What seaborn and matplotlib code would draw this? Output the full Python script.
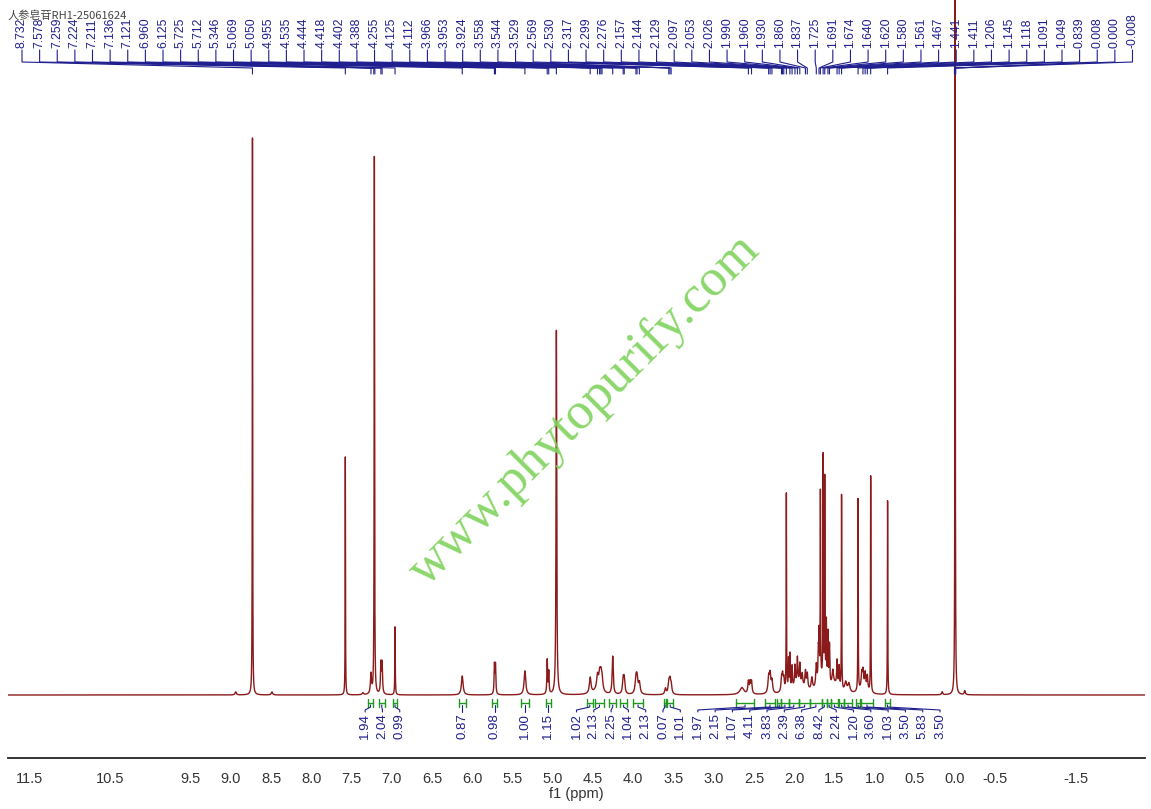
import numpy as np
import pandas as pd
import matplotlib
matplotlib.use("Agg")
import matplotlib.pyplot as plt
from matplotlib.ticker import MultipleLocator
import seaborn as sns

sns.set_style("white")
plt.rcParams['font.family'] = ['Liberation Sans', 'Noto Sans CJK SC', 'DejaVu Sans']

title = "人参皂苷RH1-25061624"
watermark = "www.phytopurify.com"

# peaks: shift (ppm), height above baseline, half width (ppm)
peak_shift = [8.94, 8.732, 8.49, 7.578, 7.36, 7.259, 7.217, 7.136, 7.121, 6.960,
              6.125, 5.725, 5.712, 5.346, 5.069, 5.050, 4.955,
              4.535, 4.444, 4.418, 4.402, 4.388, 4.255, 4.125, 4.112,
              3.966, 3.953, 3.924, 3.600, 3.558, 3.544, 3.529,
              2.65, 2.569, 2.548, 2.530, 2.317, 2.299, 2.276,
              2.157, 2.144, 2.129, 2.097, 2.070, 2.053, 2.026,
              1.990, 1.960, 1.930, 1.900, 1.860, 1.837, 1.780, 1.725,
              1.700, 1.691, 1.674, 1.640, 1.620, 1.600, 1.580, 1.561,
              1.520, 1.467, 1.441, 1.411, 1.360, 1.320,
              1.206, 1.160, 1.145, 1.118, 1.091, 1.049, 0.839,
              0.160, 0.000, -0.120,
              1.95, 1.65, 1.50, 1.15, 4.45]
peak_height = [3, 557, 3, 238, 2, 20, 540, 30, 30, 68,
               19, 29, 29, 24, 34, 22, 365,
               16, 14, 15, 14, 12, 38, 14, 14,
               14, 14, 11, 6, 11, 12, 9,
               7, 12, 11, 12, 16, 18, 12,
               13, 15, 12, 198, 30, 35, 22,
               20, 26, 20, 12, 17, 15, 12, 22,
               30, 45, 186, 221, 200, 60, 50, 40,
               14, 26, 22, 196, 10, 9,
               192, 14, 16, 16, 15, 218, 195,
               3, 900, 4,
               10, 14, 8, 6, 4]
peak_hwhm = [0.01, 0.0025, 0.01, 0.0022, 0.01, 0.008, 0.003, 0.006, 0.006, 0.003,
             0.012, 0.005, 0.005, 0.012, 0.005, 0.005, 0.005,
             0.012, 0.012, 0.012, 0.012, 0.012, 0.008, 0.010, 0.010,
             0.012, 0.012, 0.012, 0.010, 0.010, 0.010, 0.010,
             0.03, 0.008, 0.008, 0.008, 0.010, 0.010, 0.010,
             0.008, 0.008, 0.008, 0.0025, 0.004, 0.004, 0.005,
             0.006, 0.006, 0.006, 0.008, 0.008, 0.008, 0.010, 0.008,
             0.005, 0.004, 0.0025, 0.0025, 0.0025, 0.004, 0.004, 0.005,
             0.010, 0.006, 0.006, 0.0025, 0.015, 0.015,
             0.0025, 0.008, 0.008, 0.008, 0.008, 0.0025, 0.0025,
             0.008, 0.0025, 0.008,
             0.08, 0.06, 0.05, 0.05, 0.06]

# picked peak labels along the top
label_shifts = [8.732, 7.578, 7.259, 7.224, 7.211, 7.136, 7.121, 6.960, 6.125, 5.725,
                5.712, 5.346, 5.069, 5.050, 4.955, 4.535, 4.444, 4.418, 4.402, 4.388,
                4.255, 4.125, 4.112, 3.966, 3.953, 3.924, 3.558, 3.544, 3.529, 2.569,
                2.530, 2.317, 2.299, 2.276, 2.157, 2.144, 2.129, 2.097, 2.053, 2.026,
                1.990, 1.960, 1.930, 1.860, 1.837, 1.725, 1.691, 1.674, 1.640, 1.620,
                1.580, 1.561, 1.467, 1.441, 1.411, 1.206, 1.145, 1.118, 1.091, 1.049,
                0.839, 0.008, 0.000, -0.008]

# integral ranges and values
int_start = [7.29, 7.16, 6.99, 6.17, 5.75, 5.39, 5.09, 4.58, 4.48, 4.30, 4.16, 4.00, 3.62, 3.58,
             2.72, 2.36, 2.21, 2.16, 2.07, 1.94, 1.80, 1.66, 1.59, 1.54, 1.44, 1.38, 1.23, 1.17, 0.87]
int_end = [7.24, 7.09, 6.93, 6.08, 5.69, 5.30, 5.02, 4.50, 4.36, 4.21, 4.08, 3.88, 3.59, 3.50,
           2.50, 2.24, 2.16, 2.07, 1.94, 1.80, 1.66, 1.59, 1.54, 1.46, 1.38, 1.28, 1.18, 1.02, 0.81]
int_value = [1.94, 2.04, 0.99, 0.87, 0.98, 1.00, 1.15, 1.02, 2.13, 2.25, 1.04, 2.13, 0.07, 1.01,
             1.97, 2.15, 1.07, 4.11, 3.83, 2.39, 6.38, 8.42, 2.24, 1.20, 3.60, 1.03, 3.50, 5.83, 3.50]

tick_values = [11.5, 11.0, 10.5, 10.0, 9.5, 9.0, 8.5, 8.0, 7.5, 7.0, 6.5, 6.0, 5.5, 5.0,
               4.5, 4.0, 3.5, 3.0, 2.5, 2.0, 1.5, 1.0, 0.5, 0.0, -0.5, -1.0, -1.5, -2.0]
tick_labels = ['11.5', '', '10.5', '', '9.5', '9.0', '8.5', '8.0', '7.5', '7.0', '6.5', '6.0',
               '5.5', '5.0', '4.5', '4.0', '3.5', '3.0', '2.5', '2.0', '1.5', '1.0', '0.5',
               '0.0', '-0.5', '', '-1.5', '']

red = "#8b1a1a"
navy = "#1f1f8f"
green = "#1e9a1e"

# build the spectrum from the peak list (lorentzian lines)
ppm = np.arange(11.77, -2.36, -0.0004)
intensity = np.zeros_like(ppm)
for c, h, w in zip(peak_shift, peak_height, peak_hwhm):
    intensity += h / (1 + ((ppm - c) / w) ** 2)
spec = pd.DataFrame({"ppm": ppm, "intensity": intensity})


def spread(centers, gap):
    # push labels apart, keep clusters centred on the mean of their targets
    clusters = [[c] for c in centers]
    changed = True
    while changed:
        changed = False
        out = []
        for cl in clusters:
            if out:
                prev = out[-1]
                prev_last = np.mean(prev) - (len(prev) - 1) * gap / 2
                cur_first = np.mean(cl) + (len(cl) - 1) * gap / 2
                if prev_last - cur_first < gap:
                    out[-1] = prev + cl
                    changed = True
                    continue
            out.append(cl)
        clusters = out
    pos = []
    for cl in clusters:
        m = np.mean(cl)
        pos += [m + (len(cl) - 1) * gap / 2 - k * gap for k in range(len(cl))]
    return pos


fig = plt.figure(figsize=(11.51, 8.09), dpi=100)
ax = fig.add_axes([8 / 1151, 51 / 809, 1137 / 1151, 758 / 809])

fig.text(585 / 1151, 1 - 410 / 809, watermark, rotation=45, ha='center', va='center',
         fontsize=38, family='Liberation Serif', color='#7fd35c', alpha=0.9, zorder=0)

sns.lineplot(data=spec, x="ppm", y="intensity", estimator=None, sort=False,
             color=red, linewidth=1.0, ax=ax)

ax.set_xlim(11.77, -2.36)
ax.set_ylim(-63, 695)

# peak labels on top
x0, x1 = ax.get_xlim()
fr = np.linspace(0.0123, 0.989, len(label_shifts))
lab_x = x0 + (x1 - x0) * fr
for s, lx in zip(label_shifts, lab_x):
    ax.text(lx, 647, f"{s:.3f}", rotation=90, ha='center', va='bottom',
            fontsize=8.8, color=navy)
    ax.plot([lx, lx, s, s], [645, 633, 627, 621], color=navy, lw=0.8)

# integrals
centers = [(a + b) / 2 for a, b in zip(int_start, int_end)]
lab_pos = spread(centers, 0.215)
for a, b, v, c, lx in zip(int_start, int_end, int_value, centers, lab_pos):
    ax.plot([a, b], [-8, -8], color=green, lw=1.0)
    ax.plot([a, a], [-4, -12], color=green, lw=1.0)
    ax.plot([b, b], [-4, -12], color=green, lw=1.0)
    ax.plot([c, c, lx, lx], [-10, -12, -15, -17], color=navy, lw=0.8)
    ax.text(lx, -18, f"{v:.2f}", rotation=90, ha='center', va='top',
            fontsize=9.5, color=navy)

fig.text(8 / 1151, 1 - 15 / 809, title, fontsize=8, ha='left', va='center', color='#444444',
         family=['Noto Sans CJK SC', 'DejaVu Sans'])

for side in ['left', 'top', 'right']:
    ax.spines[side].set_visible(False)
ax.spines['bottom'].set_color('#222222')
ax.spines['bottom'].set_linewidth(1.3)

ax.set_xticks(tick_values)
ax.set_xticklabels(tick_labels)
ax.xaxis.set_minor_locator(MultipleLocator(0.25))
ax.tick_params(axis='x', which='major', length=6, width=1, direction='out',
               labelsize=10.5, pad=4, color='#222222', labelcolor='#333333')
ax.tick_params(axis='x', which='minor', length=3, width=1, direction='out', color='#222222')
ax.set_yticks([])
ax.set_ylabel('')
ax.set_xlabel('f1 (ppm)', fontsize=10.5, labelpad=1, color='#333333')

fig.savefig("out.png", dpi=100)
